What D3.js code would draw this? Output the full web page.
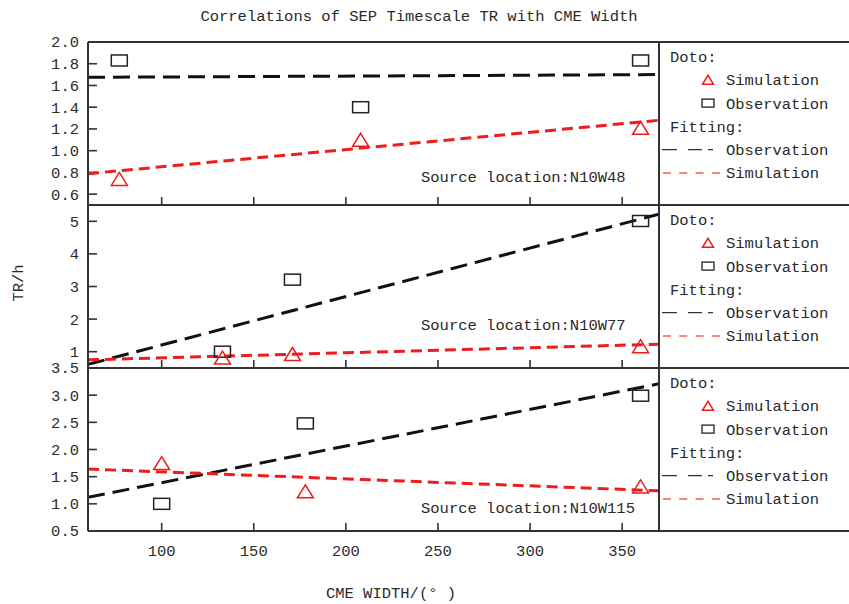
<!DOCTYPE html>
<html>
<head>
<meta charset="utf-8">
<script src="https://cdn.jsdelivr.net/npm/d3@7"></script>
<style>
  html, body { margin: 0; padding: 0; background: #fff; }
  svg { display: block; }
  text { font-family: "Liberation Mono", "DejaVu Sans Mono", monospace; fill: #2a2a2a; }
</style>
</head>
<body>
<svg id="chart" width="849" height="604"></svg>
<script>
// ---------------- DATA ----------------
const title = "Correlations of SEP Timescale TR with CME Width";
const xLabel = "CME WIDTH/(° )";
const yLabel = "TR/h";
const locations = ["N10W48", "N10W77", "N10W115"];
const xTicks = [100, 150, 200, 250, 300, 350];
const xDomain = [60, 370];

// Panel 1: N10W48
const obsX48 = [77, 208, 360];
const obsY48 = [1.83, 1.40, 1.83];
const simX48 = [77, 208, 360];
const simY48 = [0.74, 1.10, 1.21];
const fitObsX48 = [60, 370];
const fitObsY48 = [1.675, 1.70];
const fitSimX48 = [60, 370];
const fitSimY48 = [0.788, 1.28];
const yTicks48 = [0.6, 0.8, 1.0, 1.2, 1.4, 1.6, 1.8, 2.0];
const yDomain48 = [0.5, 2.0];

// Panel 2: N10W77
const obsX77 = [133, 171, 360];
const obsY77 = [1.0, 3.21, 5.01];
const simX77 = [133, 171, 360];
const simY77 = [0.82, 0.93, 1.17];
const fitObsX77 = [60, 370];
const fitObsY77 = [0.61, 5.22];
const fitSimX77 = [60, 370];
const fitSimY77 = [0.75, 1.23];
const yTicks77 = [1, 2, 3, 4, 5];
const yDomain77 = [0.5, 5.5];

// Panel 3: N10W115
const obsX115 = [100, 178, 360];
const obsY115 = [1.0, 2.48, 2.99];
const simX115 = [100, 178, 360];
const simY115 = [1.75, 1.23, 1.32];
const fitObsX115 = [60, 370];
const fitObsY115 = [1.12, 3.21];
const fitSimX115 = [60, 370];
const fitSimY115 = [1.64, 1.24];
const yTicks115 = [0.5, 1.0, 1.5, 2.0, 2.5, 3.0, 3.5];
const yDomain115 = [0.5, 3.5];

const legendDataLabels = ["Simulation", "Observation"];
const legendFitLabels = ["Observation", "Simulation"];

// ---------------- LAYOUT ----------------
const panels = [
  { loc: locations[0], obsX: obsX48, obsY: obsY48, simX: simX48, simY: simY48,
    fox: fitObsX48, foy: fitObsY48, fsx: fitSimX48, fsy: fitSimY48,
    ticks: yTicks48, dom: yDomain48, fmt: d3.format(".1f"), labelY: 0.76 },
  { loc: locations[1], obsX: obsX77, obsY: obsY77, simX: simX77, simY: simY77,
    fox: fitObsX77, foy: fitObsY77, fsx: fitSimX77, fsy: fitSimY77,
    ticks: yTicks77, dom: yDomain77, fmt: d3.format("d"), labelY: 1.83 },
  { loc: locations[2], obsX: obsX115, obsY: obsY115, simX: simX115, simY: simY115,
    fox: fitObsX115, foy: fitObsY115, fsx: fitSimX115, fsy: fitSimY115,
    ticks: yTicks115, dom: yDomain115, fmt: d3.format(".1f"), labelY: 0.93 }
];

const L = 88, R = 659, W = 849;
const top0 = 42, PH = 163;
const FS = 15.5;
const axisColor = "#333";
const red = "#ee1c1c";

const svg = d3.select("#chart");
const x = d3.scaleLinear().domain(xDomain).range([L, R]);

svg.append("text").attr("x", 419).attr("y", 21).attr("text-anchor", "middle")
  .attr("font-size", FS).attr("fill", "#333").text(title);

const defs = svg.append("defs");

function trianglePath(cx, cy, w, h) {
  return `M${cx},${cy - h / 2}L${cx + w / 2},${cy + h / 2}L${cx - w / 2},${cy + h / 2}Z`;
}

panels.forEach((p, i) => {
  const t = top0 + i * PH, b = t + PH;
  const y = d3.scaleLinear().domain(p.dom).range([b, t]);
  const g = svg.append("g");
  const cid = "clip" + i;
  defs.append("clipPath").attr("id", cid).append("rect")
    .attr("x", L).attr("y", t).attr("width", R - L).attr("height", PH);

  // y axis ticks (inward) + labels
  g.selectAll(".yt").data(p.ticks).join("line")
    .attr("x1", L).attr("x2", L + 9)
    .attr("y1", d => y(d)).attr("y2", d => y(d))
    .attr("stroke", axisColor).attr("stroke-width", 1.6);
  g.selectAll(".yl").data(p.ticks).join("text")
    .attr("x", 79).attr("y", d => y(d)).attr("dy", "0.35em")
    .attr("text-anchor", "end").attr("font-size", FS).attr("fill", "#333")
    .text(d => p.fmt(d));

  // x ticks (inward, from bottom)
  g.selectAll(".xt").data(xTicks).join("line")
    .attr("x1", d => x(d)).attr("x2", d => x(d))
    .attr("y1", b).attr("y2", b - 8)
    .attr("stroke", axisColor).attr("stroke-width", 1.6);

  // fitting lines
  const lineGen = d3.line().x(d => x(d[0])).y(d => y(d[1]));
  g.append("path").attr("clip-path", `url(#${cid})`)
    .attr("d", lineGen(d3.zip(p.fox, p.foy)))
    .attr("fill", "none").attr("stroke", "#111").attr("stroke-width", 3)
    .attr("stroke-dasharray", "17,8");
  g.append("path").attr("clip-path", `url(#${cid})`)
    .attr("d", lineGen(d3.zip(p.fsx, p.fsy)))
    .attr("fill", "none").attr("stroke", red).attr("stroke-width", 3)
    .attr("stroke-dasharray", "11,6");

  // observation squares
  g.selectAll(".obs").data(d3.zip(p.obsX, p.obsY)).join("rect")
    .attr("x", d => x(d[0]) - 8).attr("y", d => y(d[1]) - 5.5)
    .attr("width", 16).attr("height", 11)
    .attr("fill", "none").attr("stroke", "#222").attr("stroke-width", 1.5);

  // simulation triangles
  g.selectAll(".sim").data(d3.zip(p.simX, p.simY)).join("path")
    .attr("d", d => trianglePath(x(d[0]), y(d[1]), 16, 13))
    .attr("fill", "none").attr("stroke", red).attr("stroke-width", 1.5);

  // source location label
  g.append("text").attr("x", 421).attr("y", y(p.labelY)).attr("dy", "0.35em")
    .attr("font-size", FS).text("Source location:" + p.loc);

  // legend
  const rowY = k => t + 14.5 + k * 23.3;
  const lg = svg.append("g");
  lg.append("text").attr("x", 670).attr("y", rowY(0)).attr("dy", "0.35em")
    .attr("font-size", FS).text("Doto:");
  lg.append("path").attr("d", trianglePath(708, rowY(1), 11, 9))
    .attr("fill", "none").attr("stroke", red).attr("stroke-width", 1.5);
  lg.append("text").attr("x", 726).attr("y", rowY(1)).attr("dy", "0.35em")
    .attr("font-size", FS).text(legendDataLabels[0]);
  lg.append("rect").attr("x", 702).attr("y", rowY(2) - 4).attr("width", 12).attr("height", 8)
    .attr("fill", "none").attr("stroke", "#222").attr("stroke-width", 1.3);
  lg.append("text").attr("x", 726).attr("y", rowY(2)).attr("dy", "0.35em")
    .attr("font-size", FS).text(legendDataLabels[1]);
  lg.append("text").attr("x", 670).attr("y", rowY(3)).attr("dy", "0.35em")
    .attr("font-size", FS).text("Fitting:");
  lg.append("line").attr("x1", 662).attr("x2", 713).attr("y1", rowY(4)).attr("y2", rowY(4))
    .attr("stroke", "#333").attr("stroke-width", 1.3).attr("stroke-dasharray", "15,11,14,6,5,100");
  lg.append("text").attr("x", 726).attr("y", rowY(4)).attr("dy", "0.35em")
    .attr("font-size", FS).text(legendFitLabels[0]);
  lg.append("line").attr("x1", 663).attr("x2", 720).attr("y1", rowY(5)).attr("y2", rowY(5))
    .attr("stroke", "#ff5a5a").attr("stroke-width", 1.3).attr("stroke-dasharray", "8,8.3");
  lg.append("text").attr("x", 726).attr("y", rowY(5)).attr("dy", "0.35em")
    .attr("font-size", FS).text(legendFitLabels[1]);
});

// frame lines
const frame = svg.append("g").attr("stroke", axisColor).attr("stroke-width", 2);
d3.range(4).forEach(k => {
  frame.append("line").attr("x1", L).attr("x2", W).attr("y1", top0 + k * PH).attr("y2", top0 + k * PH);
});
frame.append("line").attr("x1", L).attr("x2", L).attr("y1", top0).attr("y2", top0 + 3 * PH);
frame.append("line").attr("x1", R).attr("x2", R).attr("y1", top0).attr("y2", top0 + 3 * PH);

// x tick labels (bottom)
svg.selectAll(".xl").data(xTicks).join("text")
  .attr("x", d => x(d)).attr("y", 551).attr("dy", "0.35em")
  .attr("text-anchor", "middle").attr("font-size", FS).attr("fill", "#333")
  .text(d => d);

// axis titles
svg.append("text").attr("x", 391).attr("y", 593).attr("dy", "0.35em")
  .attr("text-anchor", "middle").attr("font-size", FS).text(xLabel);
svg.append("text").attr("transform", "translate(18,283) rotate(-90)")
  .attr("dy", "0.35em").attr("text-anchor", "middle").attr("font-size", FS).text(yLabel);
</script>
</body>
</html>
